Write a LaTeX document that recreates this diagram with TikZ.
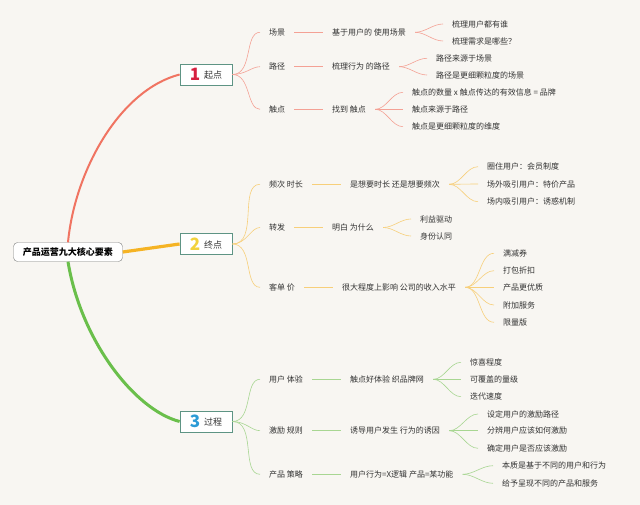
\documentclass[tikz,border=0pt]{standalone}
\usepackage{fontspec}
\setmainfont{Noto Sans CJK SC}
\usepackage{xcolor}
\usepackage{tikz}
\usetikzlibrary{calc}
\usetikzlibrary{arrows.meta}
\usetikzlibrary{positioning}
\definecolor{bgcol}{HTML}{F8F6F2}
\definecolor{txtgray}{HTML}{333333}
\definecolor{boxline}{HTML}{5E9484}
\definecolor{redmain}{HTML}{F07462}
\definecolor{redthin}{HTML}{F4A195}
\definecolor{orgmain}{HTML}{F5B324}
\definecolor{orgthin}{HTML}{F7CF7A}
\definecolor{grnmain}{HTML}{6ABF4B}
\definecolor{grnthin}{HTML}{A8D692}
\definecolor{numred}{HTML}{D6203F}
\definecolor{numyel}{HTML}{F2D23C}
\definecolor{numblu}{HTML}{2C9BD6}
\tikzset{>=latex}
\tikzstyle{txt} = [draw=none, inner sep=4pt, anchor=west, text=txtgray, font=\fontsize{8}{9}\selectfont]
\tikzstyle{stagebox} = [draw=boxline, fill=white, line width=0.8pt, minimum width=52pt, minimum height=21pt, inner sep=2pt, text=txtgray, font=\fontsize{9}{10}\selectfont]
\tikzstyle{fan} = [out=0, in=180, shorten <=5pt, shorten >=5pt, line width=0.6pt]
\tikzstyle{fanbox} = [out=0, in=180, shorten >=5pt, line width=0.6pt]
\tikzstyle{link} = [shorten <=5pt, shorten >=5pt, line width=0.6pt]
\newcommand{\stagenum}[3]{{\fontsize{17}{17}\selectfont\bfseries\color{#1}#2}\hspace{4pt}\raisebox{2pt}{#3}}

\begin{document}
\begin{tikzpicture}[x=1pt, y=-1pt]
\fill [bgcol] (0,0) rectangle (640,505);
% root and the three stages
\node [draw=gray, fill=white, rounded corners=4pt, minimum width=109pt, minimum height=19pt, inner sep=2pt, text=black, font=\fontsize{9}{10}\selectfont\bfseries] (R) at (68,252) {产品运营九大核心要素};
\node [stagebox] (S1) at (206,74.5) {\stagenum{numred}{1}{起点}};
\node [stagebox] (S2) at (206,244) {\stagenum{numyel}{2}{终点}};
\node [stagebox] (S3) at (206,421.5) {\stagenum{numblu}{3}{过程}};
\draw [draw=redmain, line width=2pt] (R.north) .. controls (75,170) and (120,90) .. (S1.west);
\draw [draw=orgmain, line width=3.2pt] (R.east) -- (S2.west);
\draw [draw=grnmain, line width=3pt] (R.south) .. controls (81,341) and (135,410) .. (S3.west);

% stage 1
\node [txt] (A1) at (265,32.3) {场景};
\node [txt] (A2) at (265,66.7) {路径};
\node [txt] (A3) at (265,109.3) {触点};
\node [txt] (A1x) at (328,32.3) {基于用户的 使用场景};
\node [txt] (A2x) at (328,66.7) {梳理行为 的路径};
\node [txt] (A3x) at (328,109.3) {找到 触点};
\node [txt] (A1a) at (448,24) {梳理用户都有谁};
\node [txt] (A1b) at (448,41) {梳理需求是哪些？};
\node [txt] (A2a) at (432,58.3) {路径来源于场景};
\node [txt] (A2b) at (432,75) {路径是更细颗粒度的场景};
\node [txt] (A3a) at (408,92.3) {触点的数量 x 触点传达的有效信息 = 品牌};
\node [txt] (A3b) at (408,109.3) {触点来源于路径};
\node [txt] (A3c) at (408,126.7) {触点是更细颗粒度的维度};
\draw [fanbox, draw=redthin] (S1.east) to (A1.west);
\draw [fanbox, draw=redthin] (S1.east) to (A2.west);
\draw [fanbox, draw=redthin] (S1.east) to (A3.west);
\draw [link, draw=redthin] (A1) -- (A1x);
\draw [link, draw=redthin] (A2) -- (A2x);
\draw [link, draw=redthin] (A3) -- (A3x);
\draw [fan, draw=redthin] (A1x.east) to (A1a.west);
\draw [fan, draw=redthin] (A1x.east) to (A1b.west);
\draw [fan, draw=redthin] (A2x.east) to (A2a.west);
\draw [fan, draw=redthin] (A2x.east) to (A2b.west);
\draw [fan, draw=redthin] (A3x.east) to (A3a.west);
\draw [fan, draw=redthin] (A3x.east) to (A3b.west);
\draw [fan, draw=redthin] (A3x.east) to (A3c.west);

% stage 2
\node [txt] (B1) at (265,184.3) {频次 时长};
\node [txt] (B2) at (265,227.5) {转发};
\node [txt] (B3) at (265,287.3) {客单 价};
\node [txt] (B1x) at (346,184.3) {是想要时长 还是想要频次};
\node [txt] (B2x) at (328,227.5) {明白 为什么};
\node [txt] (B3x) at (338,287.3) {很大程度上影响 公司的收入水平};
\node [txt] (B1a) at (483,166.7) {圈住用户：会员制度};
\node [txt] (B1b) at (483,184) {场外吸引用户：特价产品};
\node [txt] (B1c) at (483,201.7) {场内吸引用户：诱惑机制};
\node [txt] (B2a) at (416,219) {利益驱动};
\node [txt] (B2b) at (416,236) {身份认同};
\node [txt] (B3a) at (499,253.3) {满减券};
\node [txt] (B3b) at (499,270.7) {打包折扣};
\node [txt] (B3c) at (499,287.3) {产品更优质};
\node [txt] (B3d) at (499,305) {附加服务};
\node [txt] (B3e) at (499,322.3) {限量版};
\draw [fanbox, draw=orgthin] (S2.east) to (B1.west);
\draw [fanbox, draw=orgthin] (S2.east) to (B2.west);
\draw [fanbox, draw=orgthin] (S2.east) to (B3.west);
\draw [link, draw=orgthin] (B1) -- (B1x);
\draw [link, draw=orgthin] (B2) -- (B2x);
\draw [link, draw=orgthin] (B3) -- (B3x);
\draw [fan, draw=orgthin] (B1x.east) to (B1a.west);
\draw [fan, draw=orgthin] (B1x.east) to (B1b.west);
\draw [fan, draw=orgthin] (B1x.east) to (B1c.west);
\draw [fan, draw=orgthin] (B2x.east) to (B2a.west);
\draw [fan, draw=orgthin] (B2x.east) to (B2b.west);
\draw [fan, draw=orgthin] (B3x.east) to (B3a.west);
\draw [fan, draw=orgthin] (B3x.east) to (B3b.west);
\draw [fan, draw=orgthin] (B3x.east) to (B3c.west);
\draw [fan, draw=orgthin] (B3x.east) to (B3d.west);
\draw [fan, draw=orgthin] (B3x.east) to (B3e.west);

% stage 3
\node [txt] (C1) at (265,379.3) {用户 体验};
\node [txt] (C2) at (265,430.7) {激励 规则};
\node [txt] (C3) at (265,474.3) {产品 策略};
\node [txt] (C1x) at (346,379.3) {触点好体验 织品牌网};
\node [txt] (C2x) at (346,430.7) {诱导用户发生 行为的诱因};
\node [txt] (C3x) at (346,474.3) {用户行为=X逻辑 产品=某功能};
\node [txt] (C1a) at (466,362.3) {惊喜程度};
\node [txt] (C1b) at (466,379.3) {可覆盖的量级};
\node [txt] (C1c) at (466,396.7) {迭代速度};
\node [txt] (C2a) at (483,414) {设定用户的激励路径};
\node [txt] (C2b) at (483,430.7) {分辨用户应该如何激励};
\node [txt] (C2c) at (483,448.3) {确定用户是否应该激励};
\node [txt] (C3a) at (498,465.7) {本质是基于不同的用户和行为};
\node [txt] (C3b) at (498,483.3) {给予呈现不同的产品和服务};
\draw [fanbox, draw=grnthin] (S3.east) to (C1.west);
\draw [fanbox, draw=grnthin] (S3.east) to (C2.west);
\draw [fanbox, draw=grnthin] (S3.east) to (C3.west);
\draw [link, draw=grnthin] (C1) -- (C1x);
\draw [link, draw=grnthin] (C2) -- (C2x);
\draw [link, draw=grnthin] (C3) -- (C3x);
\draw [fan, draw=grnthin] (C1x.east) to (C1a.west);
\draw [fan, draw=grnthin] (C1x.east) to (C1b.west);
\draw [fan, draw=grnthin] (C1x.east) to (C1c.west);
\draw [fan, draw=grnthin] (C2x.east) to (C2a.west);
\draw [fan, draw=grnthin] (C2x.east) to (C2b.west);
\draw [fan, draw=grnthin] (C2x.east) to (C2c.west);
\draw [fan, draw=grnthin] (C3x.east) to (C3a.west);
\draw [fan, draw=grnthin] (C3x.east) to (C3b.west);
\end{tikzpicture}
\end{document}
